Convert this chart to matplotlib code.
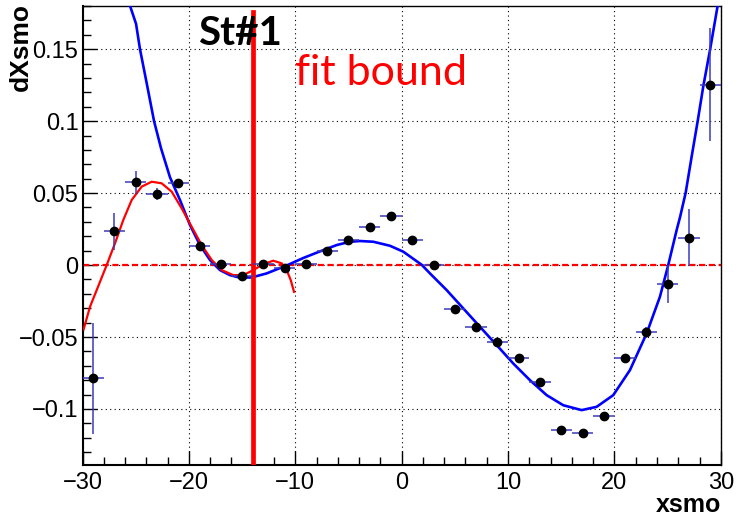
import numpy as np
import matplotlib
matplotlib.use('Agg')
import matplotlib.pyplot as plt
from matplotlib.ticker import MultipleLocator

plt.rcParams['font.family'] = ['Liberation Sans', 'DejaVu Sans']

# Binned points (bin width 2)
bin_x = [-29, -27, -25, -23, -21, -19, -17, -15, -13, -11, -9, -7, -5, -3, -1,
         1, 3, 5, 7, 9, 11, 13, 15, 17, 19, 21, 23, 25, 27, 29]
bin_y = [-0.0788, 0.0235, 0.0574, 0.0493, 0.0572, 0.0135, 0.0005, -0.0077, 0.0009, -0.0021,
         0.0009, 0.0095, 0.0176, 0.0264, 0.0343, 0.0172, -0.0002, -0.0306, -0.0429, -0.0538,
         -0.0647, -0.0816, -0.1143, -0.1166, -0.1050, -0.0645, -0.0468, -0.0132, 0.0190, 0.1254]
bin_yerr = [0.0385, 0.013, 0.008, 0.004, 0.002, 0.002, 0.002, 0.002, 0.002, 0.002,
            0.002, 0.002, 0.002, 0.002, 0.002, 0.002, 0.002, 0.002, 0.002, 0.002,
            0.002, 0.002, 0.002, 0.002, 0.002, 0.002, 0.004, 0.013, 0.020, 0.0394]
bin_xerr = [1] * len(bin_x)

# Global fit curve (blue)
fit_x = [-25.53, -24.97, -24.6, -23.97, -23.28, -22.62, -21.78, -20.84, -19.9, -18.96,
         -18.02, -17.08, -16.14, -15.2, -14.1, -12.69, -10.66, -9.25, -7.99, -6.11,
         -4.86, -3.92, -2.67, -1.10, 0.15, 1.88, 2.66, 4.23, 5.79, 7.36, 8.93, 10.49,
         12.06, 13.63, 15.19, 16.92, 18.33, 19.89, 21.46, 23.03, 24.28, 25.06, 25.85,
         26.18, 26.7, 27.26, 27.83, 28.35, 29.0, 29.7]
fit_y = [0.18, 0.1676, 0.15, 0.1264, 0.1001, 0.0811, 0.0610, 0.0452, 0.0278, 0.0139,
         0.0035, -0.0035, -0.0070, -0.0088, -0.0086, -0.0058, 0.0002, 0.0049, 0.0086, 0.0139,
         0.0162, 0.0167, 0.0162, 0.0134, 0.0093, 0.0002, -0.0058, -0.0174, -0.0301, -0.0429,
         -0.0556, -0.0684, -0.0800, -0.0904, -0.0974, -0.1008, -0.0985, -0.0904, -0.0730,
         -0.0475, -0.0220, 0.0, 0.0243, 0.0336, 0.0503, 0.0753, 0.1001, 0.124, 0.15, 0.18]

# Local fit curve (red)
loc_x = [-29.9, -29.3, -28.67, -27.73, -26.95, -26.17, -25.38, -24.44, -23.5, -22.56,
         -21.62, -20.68, -19.74, -18.8, -17.86, -16.92, -15.83, -14.89, -13.95, -13.0,
         -12.07, -11.28, -10.81, -10.43, -10.12]
loc_y = [-0.0447, -0.029, -0.0174, 0.0, 0.0151, 0.0313, 0.0452, 0.0545, 0.0579, 0.0568,
         0.0510, 0.0394, 0.0266, 0.0139, 0.0035, -0.0035, -0.0070, -0.0070, -0.0035, 0.0007,
         0.0030, 0.0012, -0.0035, -0.0104, -0.0186]

bound_x = -14
x_min, x_max = -30, 30
y_min, y_max = -0.139, 0.18

fig = plt.figure(figsize=(7.37, 5.22), dpi=100)
ax = fig.add_axes([0.112, 0.109, 0.866, 0.8795])

ax.grid(True, color='black', linestyle=(0, (1, 3)), linewidth=0.8)
ax.set_axisbelow(True)

ax.plot(fit_x, fit_y, color='#0000ff', linewidth=1.9, zorder=3)
ax.plot(loc_x, loc_y, color='#ff0000', linewidth=1.6, zorder=4)
ax.axhline(0, color='#ff0000', linestyle=(0, (2.8, 1.6)), linewidth=1.6, zorder=2)
ax.plot([bound_x, bound_x], [y_min, 0.176], color='#ff0000', linewidth=3.4, zorder=5)

ax.errorbar(bin_x, bin_y, xerr=bin_xerr, yerr=bin_yerr, fmt='o', color='black',
            markersize=6, ecolor='#3a3ac0', elinewidth=1.1, capsize=0, zorder=6)

ax.set_xlim(x_min, x_max)
ax.set_ylim(y_min, y_max)

ax.xaxis.set_major_locator(MultipleLocator(10))
ax.xaxis.set_minor_locator(MultipleLocator(2))
ax.yaxis.set_major_locator(MultipleLocator(0.05))
ax.yaxis.set_minor_locator(MultipleLocator(0.01))
ax.tick_params(which='both', direction='in', top=False, right=False, labelsize=17)
ax.tick_params(which='major', length=10, width=1)
ax.tick_params(which='minor', length=5.5, width=1)
ax.tick_params(axis='x', pad=5)
ax.tick_params(axis='y', pad=3)
ax.set_yticks([-0.1, -0.05, 0, 0.05, 0.1, 0.15])
ax.set_yticklabels(['\u22120.1', '\u22120.05', '0', '0.05', '0.1', '0.15'])
ax.set_xticks([-30, -20, -10, 0, 10, 20, 30])
ax.set_xticklabels(['\u221230', '\u221220', '\u221210', '0', '10', '20', '30'])

for s in ['left', 'bottom']:
    ax.spines[s].set_linewidth(1.5)
for s in ['top', 'right']:
    ax.spines[s].set_linewidth(1.0)

fig.text(0.978, 0.01, 'xsmo', ha='right', va='bottom', fontsize=18,
         fontweight='bold')
fig.text(0.012, 0.995, 'dXsmo', ha='left', va='top', rotation=90, fontsize=19,
         fontweight='bold')

ax.text(-19.14, 0.153, 'St#1', fontsize=29, fontweight='bold', family='Lato',
        ha='left', va='baseline', zorder=7)
ax.text(-10.03, 0.125, 'fit bound', fontsize=31, color='#ff0000', family='Lato',
        ha='left', va='baseline', zorder=7)

fig.savefig('out.png', dpi=100)
